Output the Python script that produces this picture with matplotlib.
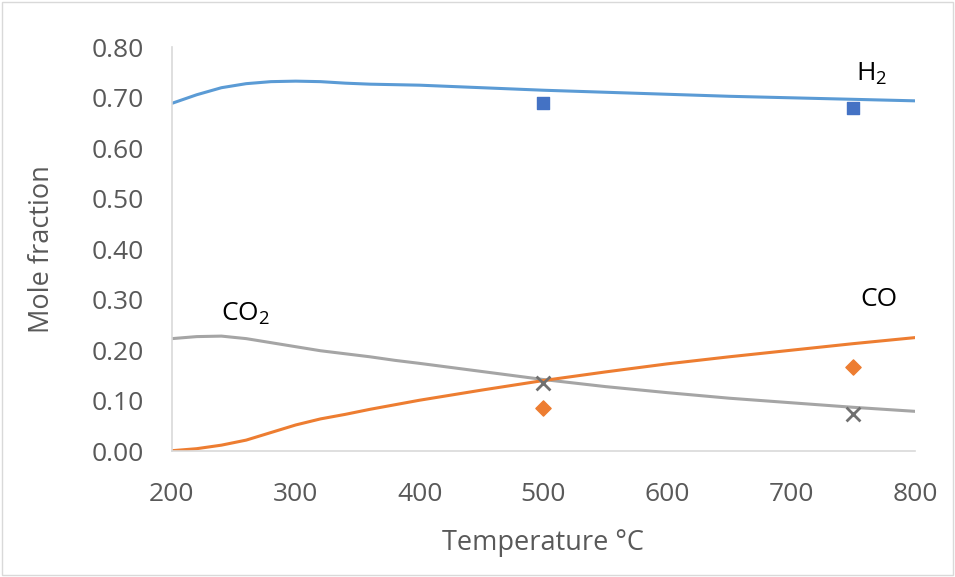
import matplotlib.pyplot as plt
from matplotlib.patches import Rectangle

plt.rcParams['font.family'] = ['Open Sans', 'DejaVu Sans']
plt.rcParams['mathtext.fontset'] = 'custom'
plt.rcParams['mathtext.rm'] = 'Open Sans'

# equilibrium curves
temp = [200, 220, 240, 260, 280, 300, 320, 340, 360, 380, 400,
        450, 500, 550, 600, 650, 700, 750, 800]
h2 = [0.689, 0.706, 0.720, 0.728, 0.732, 0.733, 0.732, 0.729, 0.727, 0.726, 0.725,
      0.720, 0.715, 0.711, 0.707, 0.703, 0.700, 0.697, 0.694]
co2 = [0.223, 0.227, 0.228, 0.223, 0.215, 0.207, 0.199, 0.193, 0.187, 0.180, 0.174,
       0.158, 0.142, 0.128, 0.116, 0.105, 0.096, 0.087, 0.079]
co = [0.001, 0.005, 0.012, 0.022, 0.037, 0.052, 0.064, 0.073, 0.083, 0.092, 0.101,
      0.121, 0.140, 0.157, 0.173, 0.187, 0.200, 0.213, 0.225]

# experimental points
exp_temp = [500, 750]
exp_h2 = [0.689, 0.679]
exp_co2 = [0.135, 0.073]
exp_co = [0.085, 0.166]

fig = plt.figure(figsize=(9.55, 5.77), dpi=100)
ax = fig.add_axes([0.180, 0.218, 0.778, 0.700])

ax.plot(temp, h2, color='#5B9BD5', lw=2.2, solid_capstyle='round', solid_joinstyle='round')
ax.plot(temp, co2, color='#A5A5A5', lw=2.2, solid_capstyle='round', solid_joinstyle='round')
ax.plot(temp, co, color='#ED7D31', lw=2.2, solid_capstyle='round', solid_joinstyle='round')

ax.scatter(exp_temp, exp_h2, marker='s', s=85, color='#4472C4', zorder=3)
ax.scatter(exp_temp, exp_co, marker='D', s=60, color='#ED7D31', zorder=3)
ax.scatter(exp_temp, exp_co2, marker='x', s=100, color='#707070', linewidths=2, zorder=3)

ax.text(765, 0.748, r'H$_2$', fontsize=19, color='black', ha='center', va='center')
ax.text(259, 0.272, r'CO$_2$', fontsize=19, color='black', ha='center', va='center')
ax.text(771, 0.300, 'CO', fontsize=19, color='black', ha='center', va='center')

ax.set_xlim(200, 800)
ax.set_ylim(0, 0.8)
ax.set_xticks(range(200, 801, 100))
ax.set_yticks([i / 10 for i in range(9)])
ax.set_yticklabels([f'{i / 10:.2f}' for i in range(9)])

for side in ['top', 'right']:
    ax.spines[side].set_visible(False)
for side in ['left', 'bottom']:
    ax.spines[side].set_color('#D9D9D9')
    ax.spines[side].set_linewidth(1.2)

ax.tick_params(length=0, labelsize=19, colors='#595959')
ax.tick_params(axis='y', pad=20)
ax.tick_params(axis='x', pad=22)
ax.set_xlabel('Temperature °C', fontsize=19.5, color='#595959', labelpad=16)
ax.set_ylabel('Mole fraction', fontsize=19.5, color='#595959', labelpad=26)

fig.patches.append(Rectangle((0.002, 0.003), 0.996, 0.994, transform=fig.transFigure,
                             fill=False, edgecolor='#D9D9D9', lw=1))

fig.savefig('out.png', dpi=100)
